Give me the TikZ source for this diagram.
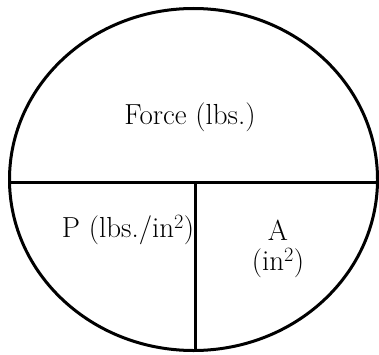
\documentclass[tikz,border=0pt]{standalone}
\usepackage{tikz}
\usetikzlibrary{positioning, shapes.geometric, calc}

\begin{document}
\begin{tikzpicture}[
  x=1pt, y=1pt,
  outline/.style={draw=black, line width=3pt},
  label/.style={font=\fontsize{29}{33}\selectfont, align=center, inner sep=0pt},
]
\useasboundingbox (0,0) rectangle (379,354);

% Outer ellipse
\node[ellipse, outline, minimum width=368, minimum height=342,
      inner sep=0pt, outer sep=0pt] (circ) at (193.5,174.5) {};

% Dividers
\draw[outline] (circ.181) -- (circ.-1);
\coordinate (mid) at (195.7,171.3);
\draw[outline] (mid) -- ($(mid |- circ.south)+(0,1)$);

% Labels
\node[label] (force) at (190,237) {Force (lbs.)};
\node[label] (pres) at (128,124) {P (lbs./in\textsuperscript{2})};
\node[label] (area) at (278,105) {A\\[-3pt](in\textsuperscript{2})};

\end{tikzpicture}
\end{document}
